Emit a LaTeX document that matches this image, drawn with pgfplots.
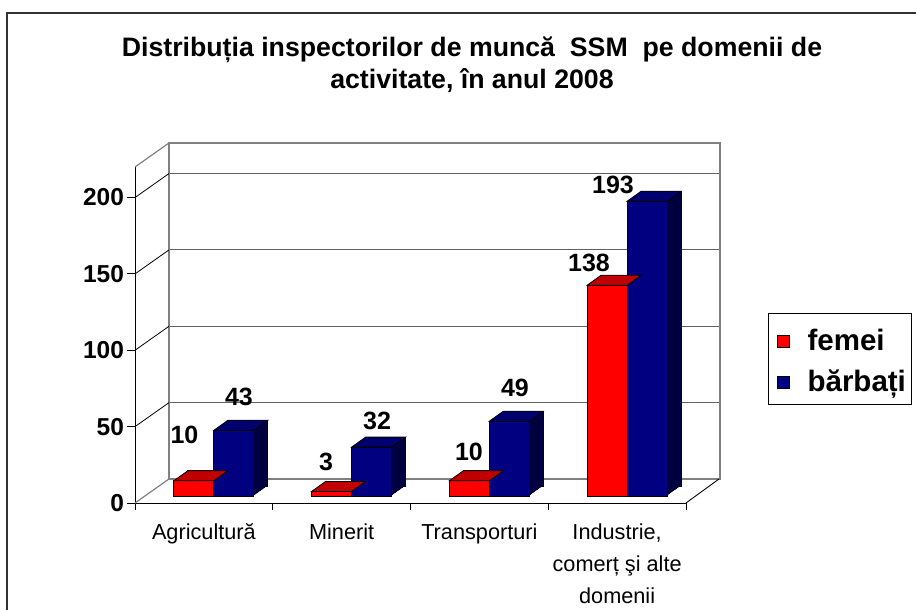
\documentclass[border=0pt]{standalone}
\usepackage{fontspec}
\setmainfont{Liberation Sans}
\usepackage{pgfplots}
\usepackage{pgfplotstable}
\pgfplotsset{compat=1.18}

\definecolor{rfront}{HTML}{FF0000}
\definecolor{rtop}{HTML}{C00000}
\definecolor{rside}{HTML}{800000}
\definecolor{bfront}{HTML}{000080}
\definecolor{btop}{HTML}{00006E}
\definecolor{bside}{HTML}{000040}
\definecolor{wallgray}{HTML}{808080}

\pgfdeclareplotmark{topface}{%
  \pgfpathmoveto{\pgfqpoint{-20pt}{0pt}}%
  \pgfpathlineto{\pgfqpoint{20pt}{0pt}}%
  \pgfpathlineto{\pgfqpoint{34pt}{10pt}}%
  \pgfpathlineto{\pgfqpoint{-6pt}{10pt}}%
  \pgfpathclose
  \pgfusepathqfillstroke}

\pgfplotstableread{
x femei barbati
0 10 43
1 3 32
2 10 49
3 138 193
}\datatable

\pgfplotstableread{
x v dx dy
0 10 -19.4 52.7
1 3 -15.6 36.4
2 10 -10.4 35.7
3 138 -28.1 29.3
}\labF

\pgfplotstableread{
x v dx dy
0 43 35.1 40.3
1 32 35.4 33.1
2 49 35.6 40.2
3 193 -4.1 23.3
}\labB

\begin{document}
\begin{tikzpicture}[x=1pt,y=1pt]
\useasboundingbox (0,0) rectangle (916,610);
\draw[line width=2pt, black!80] (6.5,-10) -- (6.5,597) -- (930,597);

% back wall
\begin{axis}[at={(169pt,131pt)}, anchor=south west, scale only axis,
  width=551pt, height=336pt, xmin=-0.5, xmax=3.5, ymin=0, ymax=220,
  xtick=\empty, ytick={50,100,150,200}, yticklabels={}, major tick length=0pt,
  ymajorgrids, grid style={black!62, line width=1pt},
  axis line style={wallgray, line width=1.2pt}]
\end{axis}

% front axis
\begin{axis}[at={(135pt,107pt)}, anchor=south west, scale only axis,
  width=551pt, height=336pt, xmin=-0.5, xmax=3.5, ymin=0, ymax=220,
  clip=false,
  axis lines*=left, axis line style={black, line width=0.9pt},
  tick align=outside, major tick length=7.5pt,
  tick style={black, line width=0.9pt},
  ytick={0,50,100,150,200},
  xtick={-0.5,0.5,1.5,2.5,3.5}, xticklabels={},
  extra x ticks={0,1,2,3},
  extra x tick labels={Agricultură, Minerit, Transporturi, {Industrie,\\comerț şi alte\\domenii}},
  extra x tick style={major tick length=0pt},
  xticklabel style={font=\fontsize{21.7}{32}\selectfont, align=center, anchor=north, yshift=-17pt},
  yticklabel style={font=\fontsize{24.5}{28}\selectfont\bfseries},
  /pgf/number format/assume math mode=true,
  title={Distribuția inspectorilor de muncă\ \ SSM\ \ pe domenii de\\activitate, în anul 2008},
  title style={at={(0.6116,1.2872)}, anchor=center, align=center,
    font=\fontsize{26.7}{32}\selectfont\bfseries},
  legend style={at={(1.1488,0.5655)}, anchor=north west, draw=black, line width=0.6pt,
    font=\fontsize{29.5}{34}\selectfont\bfseries, legend cell align=left,
    nodes={inner sep=0pt, text height=26pt, text depth=2pt},
    /tikz/every odd column/.append style={column sep=18pt},
    row sep=13pt, inner xsep=5pt, inner ysep=11pt},
]
% side-wall diagonals
\pgfplotsinvokeforeach{50,100,150,200}{\draw[black, line width=0.8pt] (axis cs:-0.5,#1) -- ++(34pt,24pt);}
\draw[wallgray, line width=1.2pt] (axis cs:-0.5,0) -- ++(34pt,24pt);
\draw[wallgray, line width=1.2pt] (axis cs:-0.5,220) -- ++(34pt,24pt);
\draw[black, line width=0.9pt] (axis cs:3.5,0) -- ++(33pt,24pt);

% legend images
\addlegendimage{legend image code/.code={\path[draw=none,fill=none] (0pt,0pt) rectangle (4pt,1pt);\draw[fill=rfront,draw=black,line width=0.6pt] (4pt,-9pt) rectangle (16pt,3pt);}}
\addlegendentry{femei}
\addlegendimage{legend image code/.code={\path[draw=none,fill=none] (0pt,0pt) rectangle (4pt,1pt);\draw[fill=bfront,draw=black,line width=0.6pt] (4pt,-9pt) rectangle (16pt,3pt);}}
\addlegendentry{bărbați}

% ---- femei bars ----
\addplot[ybar, bar width=40pt, bar shift=-20pt, fill=rside, draw=black, line width=0.8pt,
  xshift=24pt, yshift=17pt, forget plot] table[x=x,y=femei]{\datatable};
\pgfplotsinvokeforeach{9,8,...,1}{
\addplot[ybar, bar width=40pt, bar shift=-20pt, fill=rside, draw=none,
  xshift={(10+1.4*#1)*1pt}, yshift={(7+#1)*1pt}, forget plot] table[x=x,y=femei]{\datatable};
}
\addplot[only marks, mark=topface, mark options={fill=rtop, draw=black, line width=0.8pt, solid},
  xshift=-10pt, yshift=7pt, forget plot] table[x=x,y=femei]{\datatable};
\addplot[ybar, bar width=40pt, bar shift=-20pt, fill=rfront, draw=black, line width=0.8pt,
  xshift=10pt, yshift=7pt, forget plot] table[x=x,y=femei]{\datatable};

% ---- barbati bars ----
\addplot[ybar, bar width=40pt, bar shift=20pt, fill=bside, draw=black, line width=0.8pt,
  xshift=24pt, yshift=17pt, forget plot] table[x=x,y=barbati]{\datatable};
\pgfplotsinvokeforeach{9,8,...,1}{
\addplot[ybar, bar width=40pt, bar shift=20pt, fill=bside, draw=none,
  xshift={(10+1.4*#1)*1pt}, yshift={(7+#1)*1pt}, forget plot] table[x=x,y=barbati]{\datatable};
}
\addplot[only marks, mark=topface, mark options={fill=btop, draw=black, line width=0.8pt, solid},
  xshift=30pt, yshift=7pt, forget plot] table[x=x,y=barbati]{\datatable};
\addplot[ybar, bar width=40pt, bar shift=20pt, fill=bfront, draw=black, line width=0.8pt,
  xshift=10pt, yshift=7pt, forget plot] table[x=x,y=barbati]{\datatable};

% ---- value labels ----
\addplot[only marks, mark=*, mark size=0pt, mark options={draw=none, fill=none},
  point meta=explicit, nodes near coords,
  visualization depends on={\thisrow{dx} \as \ldx},
  visualization depends on={\thisrow{dy} \as \ldy},
  every node near coord/.style={anchor=center, xshift=\ldx pt, yshift=\ldy pt,
    font=\fontsize{25}{29}\selectfont\bfseries, inner sep=0pt},
  forget plot] table[x=x,y=v,meta=v]{\labF};
\addplot[only marks, mark=*, mark size=0pt, mark options={draw=none, fill=none},
  point meta=explicit, nodes near coords,
  visualization depends on={\thisrow{dx} \as \ldx},
  visualization depends on={\thisrow{dy} \as \ldy},
  every node near coord/.style={anchor=center, xshift=\ldx pt, yshift=\ldy pt,
    font=\fontsize{25}{29}\selectfont\bfseries, inner sep=0pt},
  forget plot] table[x=x,y=v,meta=v]{\labB};
\end{axis}
\end{tikzpicture}
\end{document}
